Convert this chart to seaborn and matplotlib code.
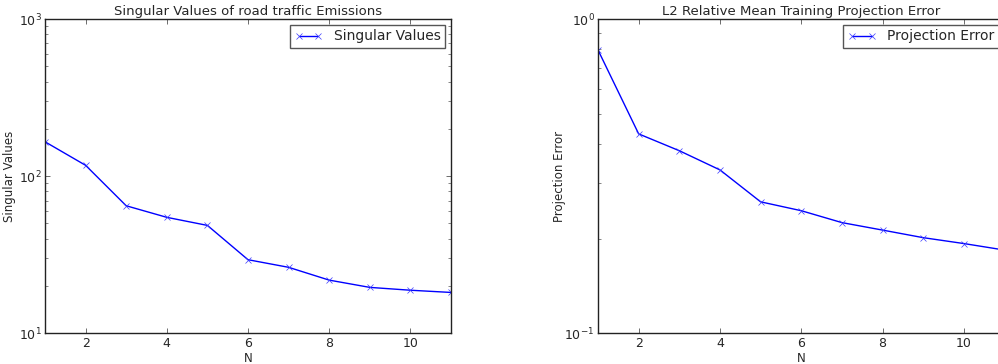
import numpy as np
import pandas as pd
import matplotlib
matplotlib.use('Agg')
import matplotlib.pyplot as plt
import matplotlib.ticker as mticker
import seaborn as sns

n_modes = [1, 2, 3, 4, 5, 6, 7, 8, 9, 10, 11]
singular_values = [165.5, 117.2, 64.8, 54.7, 48.6, 29.4, 26.3, 21.8, 19.6, 18.8, 18.2]
projection_error = [0.797, 0.431, 0.381, 0.331, 0.262, 0.2455, 0.225, 0.213, 0.2015, 0.193, 0.184]

sns.set_style('ticks')
plt.rcParams['font.family'] = ['DejaVu Sans']
plt.rcParams['xtick.direction'] = 'in'
plt.rcParams['ytick.direction'] = 'in'
plt.rcParams['xtick.top'] = True
plt.rcParams['ytick.right'] = True
plt.rcParams['mathtext.default'] = 'regular'

fig = plt.figure(figsize=(9.98, 3.64), dpi=100)
ax1 = fig.add_axes([0.0451, 0.0843, 0.4068, 0.8635])
ax2 = fig.add_axes([0.5992, 0.0843, 0.4074, 0.8635])

df = pd.DataFrame({'N': n_modes, 'sv': singular_values, 'err': projection_error})

panels = [
    (ax1, 'sv', 'Singular Values', 'Singular Values of road traffic Emissions', (10, 1000), -0.071),
    (ax2, 'err', 'Projection Error', 'L2 Relative Mean Training Projection Error', (0.1, 1), -0.078),
]

for ax, col, name, title, ylim, ylab_x in panels:
    sns.lineplot(data=df, x='N', y=col, ax=ax, color='#0000ff', marker='x',
                 markersize=5, markeredgecolor='#3a3aff', markeredgewidth=0.5,
                 linewidth=1.0, label=name)
    ax.set_yscale('log')
    ax.set_xlim(1, 11)
    ax.set_ylim(*ylim)
    ax.set_xticks([2, 4, 6, 8, 10])
    ax.yaxis.set_minor_formatter(mticker.NullFormatter())
    ax.set_title(title, fontsize=9.5, pad=3)
    ax.set_xlabel('N', fontsize=8.5)
    ax.set_ylabel(name, fontsize=8.5)
    ax.yaxis.set_label_coords(ylab_x, 0.5)
    ax.xaxis.set_label_coords(0.5, -0.058)
    ax.tick_params(axis='both', which='major', labelsize=9, length=3.5, width=0.6,
                   pad=2.5, color='#555555')
    ax.tick_params(axis='y', which='minor', length=2, width=0.5, color='#555555')
    for s in ax.spines.values():
        s.set_linewidth(1.0)
        s.set_color('#222222')
    leg = ax.legend(loc='upper right', fontsize=10, fancybox=False, numpoints=2,
                    borderaxespad=0.4, framealpha=1, borderpad=0.35)
    leg.get_frame().set_edgecolor('#555555')
    leg.get_frame().set_linewidth(1.0)

fig.savefig('out.png', dpi=100)
